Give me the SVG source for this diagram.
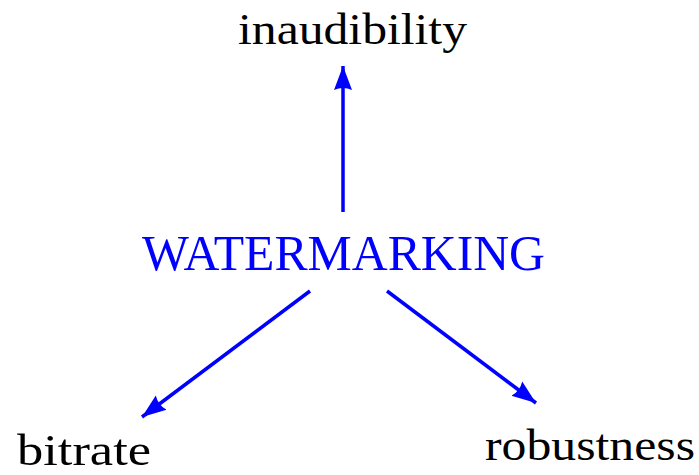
<svg xmlns="http://www.w3.org/2000/svg" width="699" height="475" viewBox="0 0 699 475">
  <style>
    .lbl { font-family: "Liberation Serif", "DejaVu Serif", serif; fill: #000; }
    .hub { font-family: "Liberation Serif", "DejaVu Serif", serif; fill: #0000ff; }
    .edge { stroke: #0000ff; stroke-width: 3.5; fill: none; }
  </style>
  <defs>
    <marker id="head" markerUnits="userSpaceOnUse" markerWidth="30" markerHeight="24" viewBox="0 -12 30 24" refX="24" refY="0" orient="auto">
      <path d="M0,-9 L24,0 L0,9 Q4,0 0,-9 Z" fill="#0000ff"/>
    </marker>
  </defs>

  <g id="connectors">
    <path class="edge" d="M343,212 L343,66" marker-end="url(#head)"/>
    <path class="edge" d="M310,291 L142,417" marker-end="url(#head)"/>
    <path class="edge" d="M387,291 L536,403" marker-end="url(#head)"/>
  </g>

  <g id="watermarking">
    <text class="hub" x="142" y="270" font-size="50" textLength="403" lengthAdjust="spacingAndGlyphs">WATERMARKING</text>
  </g>
  <g id="inaudibility">
    <text class="lbl" x="238" y="44" font-size="44" textLength="229" lengthAdjust="spacingAndGlyphs">inaudibility</text>
  </g>
  <g id="bitrate">
    <text class="lbl" x="17" y="465" font-size="44" textLength="134" lengthAdjust="spacingAndGlyphs">bitrate</text>
  </g>
  <g id="robustness">
    <text class="lbl" x="485" y="460" font-size="44" textLength="210" lengthAdjust="spacingAndGlyphs">robustness</text>
  </g>
</svg>
